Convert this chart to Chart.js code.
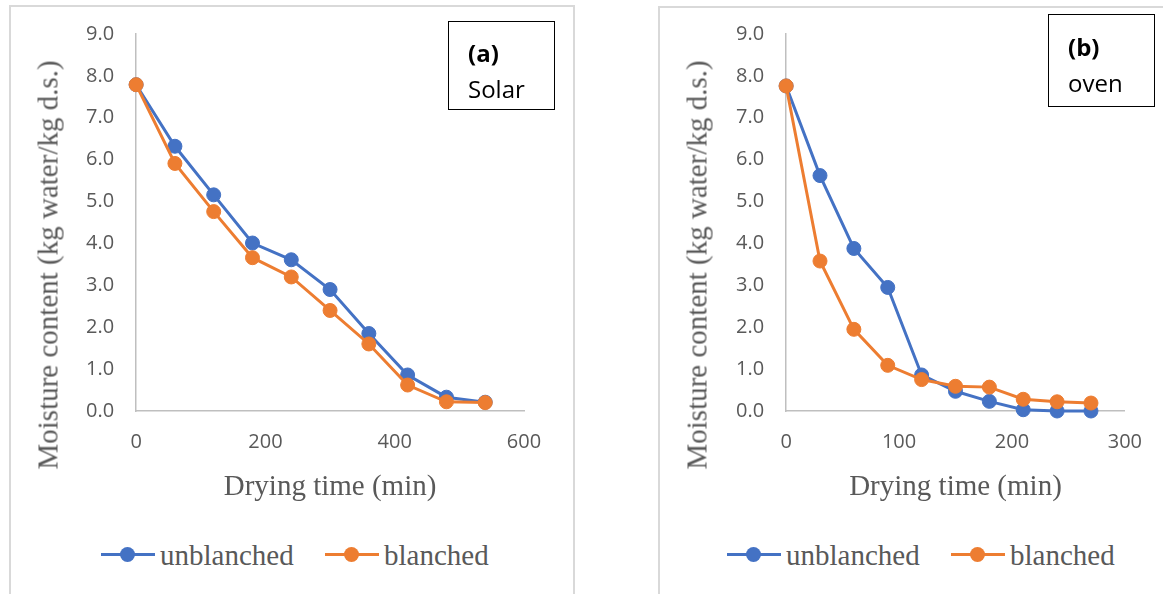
<!DOCTYPE html>
<html>
<head>
    <title>Drying curves</title>
    <script src="https://cdn.jsdelivr.net/npm/chart.js"></script>
    <style type="text/css">
        body { margin: 0; background: #fff; width: 1163px; height: 594px; overflow: hidden; position: relative; }
        .panel { position: absolute; border: 2px solid #d9d9d9; box-sizing: border-box; }
        canvas { position: absolute; top: 0; }
        .ytitle { position: absolute; transform: translate(-50%, -50%) rotate(-90deg); white-space: nowrap;
                  font-family: "Liberation Serif", serif; font-size: 29px; color: #595959; line-height: 35px; }
        .tag { position: absolute; border: 1px solid #000; font-family: "Open Sans", sans-serif; font-size: 24px; color: #000; }
        .tag span { position: absolute; left: 19px; line-height: 30px; }
        .leg { position: absolute; top: 537px; height: 36px; font-family: "Liberation Serif", serif; font-size: 29px; color: #595959; }
        .leg .ln { position: absolute; top: 16px; height: 3px; width: 54px; }
        .leg .dot { position: absolute; top: 10px; width: 15px; height: 15px; border-radius: 50%; }
        .leg .tx { position: absolute; top: 0; line-height: 36px; white-space: nowrap; }
    </style>
</head>
<body>
    <div class="panel" style="left:9px; top:5px; width:566px; height:600px;"></div>
    <div class="panel" style="left:658px; top:6px; width:520px; height:600px;"></div>

    <canvas id="solar" width="565" height="502" style="left:9px;"></canvas>
    <canvas id="oven" width="504" height="502" style="left:659px;"></canvas>

    <div class="ytitle" id="ytSolar" style="left:48px; top:265px;"></div>
    <div class="ytitle" id="ytOven" style="left:697px; top:265px;"></div>

    <div class="tag" style="left:448px; top:21px; width:105px; height:87px;">
        <span style="top:16px; font-weight:bold;">(a)</span>
        <span style="top:52px;">Solar</span>
    </div>
    <div class="tag" style="left:1048px; top:14px; width:105px; height:91px;">
        <span style="top:17px; font-weight:bold;">(b)</span>
        <span style="top:53px;">oven</span>
    </div>

    <div id="legendSolar"></div>
    <div id="legendOven"></div>

    <script>
        const seriesNames = ['unblanched', 'blanched'];
        const seriesColors = ['#4472C4', '#ED7D31'];

        const timeSolar = [0, 60, 120, 180, 240, 300, 360, 420, 480, 540];
        const solarUnblanched = [7.79, 6.32, 5.16, 4.01, 3.61, 2.90, 1.85, 0.86, 0.33, 0.21];
        const solarBlanched = [7.79, 5.91, 4.76, 3.66, 3.20, 2.40, 1.60, 0.62, 0.22, 0.20];

        const timeOven = [0, 30, 60, 90, 120, 150, 180, 210, 240, 270];
        const ovenUnblanched = [7.76, 5.62, 3.88, 2.95, 0.86, 0.47, 0.23, 0.03, 0.00, 0.00];
        const ovenBlanched = [7.76, 3.58, 1.95, 1.09, 0.75, 0.59, 0.57, 0.28, 0.22, 0.19];

        const yMin = 0, yMax = 9, yStep = 1;
        const solarXMax = 600, solarXStep = 200;
        const ovenXMax = 300, ovenXStep = 100;

        const xTitle = 'Drying time (min)';
        const yTitle = 'Moisture content (kg water/kg d.s.)';

        Chart.defaults.font.family = '"Open Sans", sans-serif';
        Chart.defaults.color = '#595959';

        // y titles sit lower than the plot centre in the original, so they are placed by hand
        document.getElementById('ytSolar').textContent = yTitle;
        document.getElementById('ytOven').textContent = yTitle;

        function toPoints(xs, ys) {
            return xs.map((x, i) => ({ x: x, y: ys[i] }));
        }

        function makeDataset(i, xs, ys) {
            return {
                label: seriesNames[i],
                data: toPoints(xs, ys),
                borderColor: seriesColors[i],
                backgroundColor: seriesColors[i],
                borderWidth: 3,
                pointRadius: 7,
                pointBorderWidth: 1,
                pointHoverRadius: 7,
                tension: 0,
                clip: false,
                order: i === 0 ? 1 : 0   // blanched drawn on top
            };
        }

        function makeChart(id, xs, ys1, ys2, xMax, xStep, padRight) {
            return new Chart(document.getElementById(id), {
                type: 'line',
                data: {
                    datasets: [makeDataset(0, xs, ys1), makeDataset(1, xs, ys2)]
                },
                options: {
                    responsive: false,
                    animation: false,
                    events: [],
                    layout: {
                        autoPadding: false,
                        padding: { top: 33, right: padRight, bottom: 0, left: 55 }
                    },
                    plugins: {
                        legend: { display: false },
                        tooltip: { enabled: false }
                    },
                    scales: {
                        x: {
                            type: 'linear',
                            min: 0,
                            max: xMax,
                            grid: { display: false, drawTicks: false },
                            border: { display: true, color: '#bfbfbf', width: 1.5 },
                            ticks: { stepSize: xStep, padding: 21, font: { size: 20, lineHeight: 1 }, color: '#595959' },
                            title: {
                                display: true,
                                text: xTitle,
                                color: '#595959',
                                font: { family: '"Liberation Serif", serif', size: 29, lineHeight: 1 },
                                padding: { top: 0, bottom: 0 }
                            }
                        },
                        y: {
                            min: yMin,
                            max: yMax,
                            grid: { display: false, drawTicks: false },
                            border: { display: true, color: '#bfbfbf', width: 1.5 },
                            ticks: {
                                stepSize: yStep,
                                padding: 22,
                                font: { size: 20 },
                                color: '#595959',
                                callback: v => v.toFixed(1)
                            },
                            title: { display: false }
                        }
                    }
                }
            });
        }

        makeChart('solar', timeSolar, solarUnblanched, solarBlanched, solarXMax, solarXStep, 50);
        makeChart('oven', timeOven, ovenUnblanched, ovenBlanched, ovenXMax, ovenXStep, 36);

        // legend: line with marker, then the series name
        function buildLegend(id, starts) {
            const box = document.getElementById(id);
            seriesNames.forEach((name, i) => {
                const item = document.createElement('div');
                item.className = 'leg';
                item.style.left = starts[i] + 'px';
                item.innerHTML =
                    '<div class="ln" style="left:0; background:' + seriesColors[i] + '"></div>' +
                    '<div class="dot" style="left:19px; background:' + seriesColors[i] + '"></div>' +
                    '<div class="tx" style="left:59px;">' + name + '</div>';
                box.appendChild(item);
            });
        }
        buildLegend('legendSolar', [101, 325]);
        buildLegend('legendOven', [727, 951]);
    </script>
</body>
</html>
